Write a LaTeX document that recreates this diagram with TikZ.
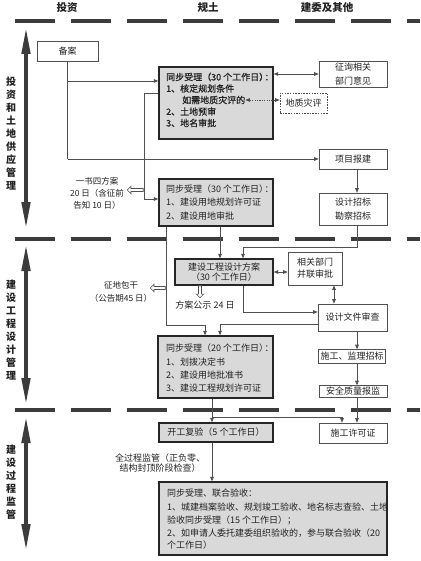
\documentclass[tikz,border=0pt]{standalone}
\usepackage{fontspec}
\setmainfont{Noto Sans CJK SC}
\newfontfamily\semib[FakeBold=0.7]{Noto Sans CJK SC}
\usetikzlibrary{arrows.meta,shapes.arrows,calc}
\definecolor{boxgray}{HTML}{D9D9D9}
\definecolor{linegray}{HTML}{505050}
\definecolor{sepgray}{HTML}{3C3C3C}
\definecolor{inkc}{HTML}{222222}
\newcommand\fsn{\fontsize{9}{11}\selectfont}
\newcommand\rparcol{\makebox[0.6em][l]{）}\makebox[0.5em][l]{：}}
\begin{document}
\begin{tikzpicture}[x=1pt,y=-1pt,
  thinbox/.style={draw=linegray, line width=0.6pt, fill=white, inner sep=1pt, align=center, text=inkc, font=\fsn},
  graybox/.style={draw=black!85, line width=1.4pt, fill=boxgray, inner sep=0pt, align=center, text=inkc, font=\fsn},
  lbl/.style={inner sep=0pt, anchor=west, text=inkc, font=\fsn},
  free/.style={inner sep=0pt, align=center, text=inkc, font=\fsn},
  wire/.style={draw=linegray, line width=0.7pt},
  conn/.style={wire, -{Triangle[length=4.5pt,width=3.6pt]}},
  biconn/.style={wire, {Triangle[length=4.5pt,width=3.6pt]}-{Triangle[length=4.5pt,width=3.6pt]}},
  dotconn/.style={biconn, dash pattern=on 1.2pt off 1.2pt},
  hollow/.style={single arrow, draw=linegray, fill=white, line width=0.6pt, inner sep=1.2pt, single arrow head extend=2.2pt, single arrow head indent=0pt},
  bigarrow/.style={draw=sepgray, line width=3.2pt, {Triangle[length=26pt,width=8.5pt]}-{Triangle[length=26pt,width=8.5pt]}},
  sepline/.style={draw=sepgray, line width=3.5pt, dash pattern=on 40pt off 16pt},
  side/.style={inner sep=0pt, align=center, text=inkc, font=\fontsize{10}{13}\selectfont\bfseries},
  headtxt/.style={inner sep=0pt, text=inkc, font=\fontsize{10.5}{12}\selectfont\bfseries}
]
\fill[white] (0,0) rectangle (420,561);
\useasboundingbox (0,0) rectangle (420,561);

% header
\node[headtxt] (hA) at (67,8) {投资};
\node[headtxt] (hB) at (208,8) {规土};
\node[headtxt] (hC) at (327,8) {建委及其他};

% separators
\coordinate (s1a) at (15,21);  \coordinate (s1b) at (420,21);
\coordinate (s2a) at (15,239); \coordinate (s2b) at (420,239);
\coordinate (s3a) at (15,410); \coordinate (s3b) at (420,410);
\draw[sepline] (s1a) -- (s1b);
\draw[sepline] (s2a) -- (s2b);
\draw[sepline] (s3a) -- (s3b);

% side arrows and labels
\coordinate (a1t) at (26,28);  \coordinate (a1b) at (26,228);
\coordinate (a2t) at (26,245); \coordinate (a2b) at (26,404);
\coordinate (a3t) at (26,417); \coordinate (a3b) at (26,550);
\draw[bigarrow] (a1t) -- (a1b);
\draw[bigarrow] (a2t) -- (a2b);
\draw[bigarrow] (a3t) -- (a3b);
\node[side] (sl1) at (11,134) {投\\资\\和\\土\\地\\供\\应\\管\\理};
\node[side] (sl2) at (11,330.5) {建\\设\\工\\程\\设\\计\\管\\理};
\node[side] (sl3) at (11,482.5) {建\\设\\过\\程\\监\\管};

% boxes
\node[thinbox, minimum width=61pt, minimum height=20pt] (beian) at (67.5,51) {备案};

\node[graybox, minimum width=114pt, minimum height=72pt] (box1) at (216,103) {};
\node[lbl, font=\fsn\semib] (b1a) at (166,77) {同步受理（30 个工作日\rparcol};
\node[lbl, font=\fsn\semib] (b1b) at (166,88.5) {1、核定规划条件};
\node[lbl, font=\fsn\semib] (b1c) at (182,100) {如需地质灾评的};
\node[lbl, font=\fsn\semib] (b1d) at (166,111.5) {2、土地预审};
\node[lbl, font=\fsn\semib] (b1e) at (166,123) {3、地名审批};

\node[thinbox, minimum width=68pt, minimum height=26pt, font=\fontsize{9}{13.5}\selectfont] (zxbm) at (353,74) {征询相关\\部门意见};
\node[thinbox, dash pattern=on 1.5pt off 1.2pt, minimum width=47pt, minimum height=20pt] (dzzp) at (303.5,103) {地质灾评};
\node[thinbox, minimum width=68pt, minimum height=20pt] (xmbj) at (353,159) {项目报建};
\node[thinbox, minimum width=68pt, minimum height=32pt, font=\fontsize{9}{13.3}\selectfont] (sjzb) at (353,209) {设计招标\\勘察招标};

\node[graybox, minimum width=114pt, minimum height=47pt] (box2) at (216,202.5) {};
\node[lbl] (b2a) at (166,189) {同步受理（30 个工作日\rparcol};
\node[lbl] (b2b) at (166,202.5) {1、建设用地规划许可证};
\node[lbl] (b2c) at (166,216) {2、建设用地审批};

\node[graybox, minimum width=98pt, minimum height=26pt, font=\fontsize{9}{10.7}\selectfont] (sjfa) at (224,272) {建设工程设计方案\\（30 个工作日）};
\node[thinbox, minimum width=54pt, minimum height=33pt, font=\fontsize{9}{12}\selectfont] (xgbm) at (315,268.5) {相关部门\\并联审批};
\node[thinbox, minimum width=69pt, minimum height=27pt] (wjsc) at (352.5,317.5) {设计文件审查};
\node[thinbox, minimum width=67pt, minimum height=14pt, inner sep=0.5pt] (sgzb) at (352,356.5) {施工、监理招标};
\node[thinbox, minimum width=68pt, minimum height=12pt, inner sep=0.5pt] (aqbj) at (353,391.5) {安全质量报监};

\node[graybox, minimum width=115pt, minimum height=62pt] (box3) at (215.5,367) {};
\node[lbl] (b3a) at (166,348) {同步受理（20 个工作日\rparcol};
\node[lbl] (b3b) at (166,362) {1、划拨决定书};
\node[lbl] (b3c) at (166,375) {2、建设用地批准书};
\node[lbl] (b3d) at (166,388) {3、建设工程规划许可证};

\node[graybox, minimum width=114pt, minimum height=19pt] (kgfy) at (216,432.5) {开工复验（5 个工作日）};
\node[thinbox, minimum width=68pt, minimum height=20pt] (sgxk) at (353,433) {施工许可证};

\node[graybox, minimum width=228pt, minimum height=73pt] (box4) at (273,518.5) {};
\node[lbl] (b4a) at (167,493) {同步受理、联合验收：};
\node[lbl] (b4b) at (167,507) {1、城建档案验收、规划竣工验收、地名标志查验、土地};
\node[lbl] (b4c) at (167,520) {验收同步受理（15 个工作日）；};
\node[lbl] (b4d) at (167,533) {2、如申请人委托建委组织验收的，参与联合验收（20};
\node[lbl] (b4e) at (167,545) {个工作日）};

% free texts
\node[free, font=\fontsize{8.5}{12}\selectfont] (yishu) at (97,193) {一书四方案\\20 日（含征前\\告知 10 日）};
\node[free, font=\fontsize{8.5}{13}\selectfont] (zdbg) at (121,291.5) {征地包干\\（公告期45 日）};
\node[free] (fags) at (205,305) {方案公示 24 日};
\node[free, font=\fontsize{9}{10.5}\selectfont] (qgc) at (160,463) {全过程监管（正负零、\\结构封顶阶段检查）};

% guide coordinates
\coordinate (g1) at (67.5,81);
\coordinate (g2) at (67.5,159);
\coordinate (g3) at (144,93);
\coordinate (g4) at (144,199);
\coordinate (vx) at (357,0);
\coordinate (g6) at (357,247);
\coordinate (g7) at (243,247);
\coordinate (g8) at (220,0);
\coordinate (g9) at (166,325);
\coordinate (g10) at (205,325);
\coordinate (g11) at (243,312);
\coordinate (g12) at (220,324);
\coordinate (g14) at (334,0);
\coordinate (g15) at (212,417);
\coordinate (g16) at (342,417);

% connectors
\draw[wire] (beian.south) -- (g2);
\draw[conn] (g2) -- (g2 -| xmbj.west);
\draw[conn] (g1) -- (g1 -| box1.west);
\draw[biconn] (box1.east |- zxbm.west) -- (zxbm.west);
\draw[dotconn] (b1c.east) -- (b1c.east -| dzzp.west);
\draw[conn] (g3 -| box1.west) -- (g3) -- (g4) -- (g4 -| box2.west);
\draw[conn] (xmbj.south -| vx) -- (sjzb.north -| vx);
\draw[conn] (sjzb.south -| vx) -- (g6) -- (g7) -- (g7 |- sjfa.north);
\draw[conn] (box2.south -| g8) -- (sjfa.north -| g8);
\draw[conn] (box2.south -| g9) -- (g9) -- (g10) -- (g10 |- box3.north);
\draw[conn] (sjfa.south -| g11) -- (g11) -- (g11 -| wjsc.west);
\draw[conn] (wjsc.west |- g12) -- (g12) -- (g12 |- box3.north);
\draw[biconn] (sjfa.east) -- (sjfa.east -| xgbm.west);
\draw[biconn] (xgbm.south -| g14) -- (wjsc.north -| g14);
\draw[conn] (wjsc.south -| vx) -- (sgzb.north -| vx);
\draw[conn] (sgzb.south -| vx) -- (aqbj.north -| vx);
\draw[conn] (aqbj.south -| vx) -- (sgxk.north -| vx);
\draw[conn] (box3.south -| g15) -- (kgfy.north -| g15);
\draw[conn] (g15) -- (g16) -- (g16 |- sgxk.north);
\draw[conn] (kgfy.south -| g15) -- (box4.north -| g15);

% hollow arrows
\node[hollow, shape border rotate=180, minimum height=16pt] (ha1) at (136,190) {};
\node[hollow, shape border rotate=180, minimum height=15pt] (ha2) at (158.5,288) {};
\node[hollow, shape border rotate=270, minimum height=12pt] (ha3) at (200,291) {};
\end{tikzpicture}
\end{document}
